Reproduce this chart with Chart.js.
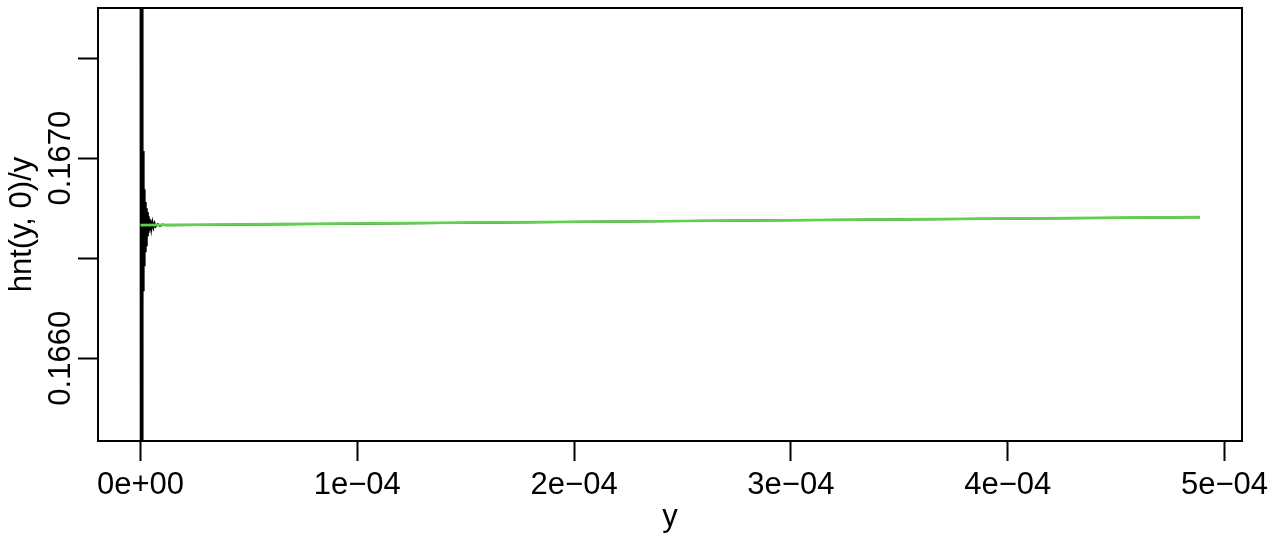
<!DOCTYPE html>
<html>
<head>
<meta charset="utf-8">
<script src="https://cdn.jsdelivr.net/npm/chart.js@4.4.1/dist/chart.umd.min.js"></script>
<style>
  body { margin: 0; background: #fff; }
  #wrap { width: 1275px; height: 538px; }
</style>
</head>
<body>
<div id="wrap"><canvas id="plot" width="1275" height="538"></canvas></div>
<script>
// dados (eixo x = y, eixo y = hnt(y, 0)/y)
const blackX = [
  0, 0.1e-6, 0.2e-6, 0.3e-6, 0.4e-6, 0.5e-6, 0.6e-6, 0.7e-6, 0.8e-6, 0.9e-6,
  1.0e-6, 1.1e-6, 1.2e-6, 1.3e-6, 1.4e-6, 1.5e-6, 1.6e-6, 1.7e-6, 1.8e-6, 1.9e-6, 2.0e-6,
  2.2e-6, 2.4e-6, 2.6e-6, 2.8e-6, 3.0e-6, 3.2e-6, 3.4e-6, 3.6e-6, 3.8e-6, 4.0e-6,
  4.3e-6, 4.6e-6, 5.0e-6, 5.5e-6, 6.0e-6, 6.5e-6, 7.0e-6, 8.0e-6, 9.0e-6, 10e-6, 12e-6,
  2.5e-4, 4.886e-4
];
const blackY = [
  0.1690, 0.1640, 0.1690, 0.1640, 0.1690, 0.1640, 0.1690, 0.1640, 0.1690, 0.1640,
  0.167125, 0.166245, 0.167035, 0.166335, 0.166955, 0.166405, 0.166895, 0.166465, 0.166845, 0.166505, 0.166810,
  0.166535, 0.166780, 0.166565, 0.166750, 0.166590, 0.166730, 0.166610, 0.166710, 0.166627, 0.166697,
  0.166638, 0.166688, 0.166646, 0.166680, 0.166653, 0.166674, 0.166658, 0.166670, 0.166661, 0.166668, 0.166665,
  0.166686, 0.166705
];
const greenX = [0, 2.5e-4, 4.886e-4];
const greenY = [0.166665, 0.166686, 0.166705];

const xTicks = [0, 1e-4, 2e-4, 3e-4, 4e-4, 5e-4];
const xTickLabels = ['0e+00', '1e\u221204', '2e\u221204', '3e\u221204', '4e\u221204', '5e\u221204'];
const yTicks = [0.1660, 0.1665, 0.1670, 0.1675];
const yTickLabels = ['0.1660', '', '0.1670', ''];

const xMin = -1.96e-5, xMax = 5.0807e-4;
const yMin = 0.1655865, yMax = 0.16775;

const fonte = '"Liberation Sans", Arial, Helvetica, sans-serif';
const toPts = (xs, ys) => xs.map((x, i) => ({ x: x, y: ys[i] }));

// moldura (box) e rótulos do eixo y girados, como no R
const boxPlugin = {
  id: 'boxR',
  afterDraw(chart) {
    const { ctx, chartArea: a } = chart;
    ctx.save();
    ctx.strokeStyle = '#000';
    ctx.lineWidth = 2;
    ctx.strokeRect(a.left, a.top, a.right - a.left, a.bottom - a.top);
    const ys = chart.scales.y;
    ctx.fillStyle = '#000';
    ctx.font = '31px ' + fonte;
    ctx.textAlign = 'center';
    ctx.textBaseline = 'alphabetic';
    yTicks.forEach((v, i) => {
      if (!yTickLabels[i]) return;
      ctx.save();
      ctx.translate(70, ys.getPixelForValue(v));
      ctx.rotate(-Math.PI / 2);
      ctx.fillText(yTickLabels[i], 0, 0);
      ctx.restore();
    });
    ctx.restore();
  }
};

new Chart(document.getElementById('plot'), {
  type: 'line',
  data: {
    datasets: [
      {
        label: 'verde',
        data: toPts(greenX, greenY),
        borderColor: '#61D04F',
        borderWidth: 2.6,
        pointRadius: 0,
        tension: 0
      },
      {
        label: 'preto',
        data: toPts(blackX, blackY),
        borderColor: '#000000',
        borderWidth: 2,
        pointRadius: 0,
        tension: 0
      }
    ]
  },
  options: {
    responsive: false,
    animation: false,
    events: [],
    layout: { padding: { left: 0, right: 33, top: 8, bottom: 0 } },
    plugins: { legend: { display: false }, tooltip: { enabled: false } },
    scales: {
      x: {
        type: 'linear',
        min: xMin,
        max: xMax,
        afterBuildTicks: s => { s.ticks = xTicks.map(v => ({ value: v })); },
        afterFit: s => { s.height = 97; },
        grid: { drawOnChartArea: false, drawTicks: true, tickLength: 20, tickWidth: 2, tickColor: '#000' },
        border: { display: false },
        ticks: {
          color: '#000',
          padding: 6,
          maxRotation: 0,
          autoSkip: false,
          font: { family: fonte, size: 31, lineHeight: 1.2 },
          callback: (v, i) => xTickLabels[i]
        },
        title: {
          display: true,
          text: 'y',
          color: '#000',
          font: { family: fonte, size: 31, lineHeight: 1.2 },
          padding: { top: 0, bottom: 2 }
        }
      },
      y: {
        type: 'linear',
        min: yMin,
        max: yMax,
        afterBuildTicks: s => { s.ticks = yTicks.map(v => ({ value: v })); },
        afterFit: s => { s.width = 98; },
        grid: { drawOnChartArea: false, drawTicks: true, tickLength: 20, tickWidth: 2, tickColor: '#000' },
        border: { display: false },
        ticks: {
          color: '#000',
          padding: 0,
          font: { family: fonte, size: 1, lineHeight: 1 },
          callback: () => ''
        },
        title: {
          display: true,
          text: 'hnt(y, 0)/y',
          color: '#000',
          font: { family: fonte, size: 31, lineHeight: 1.2 },
          padding: { top: 4, bottom: 0 }
        }
      }
    }
  },
  plugins: [boxPlugin]
});
</script>
</body>
</html>
